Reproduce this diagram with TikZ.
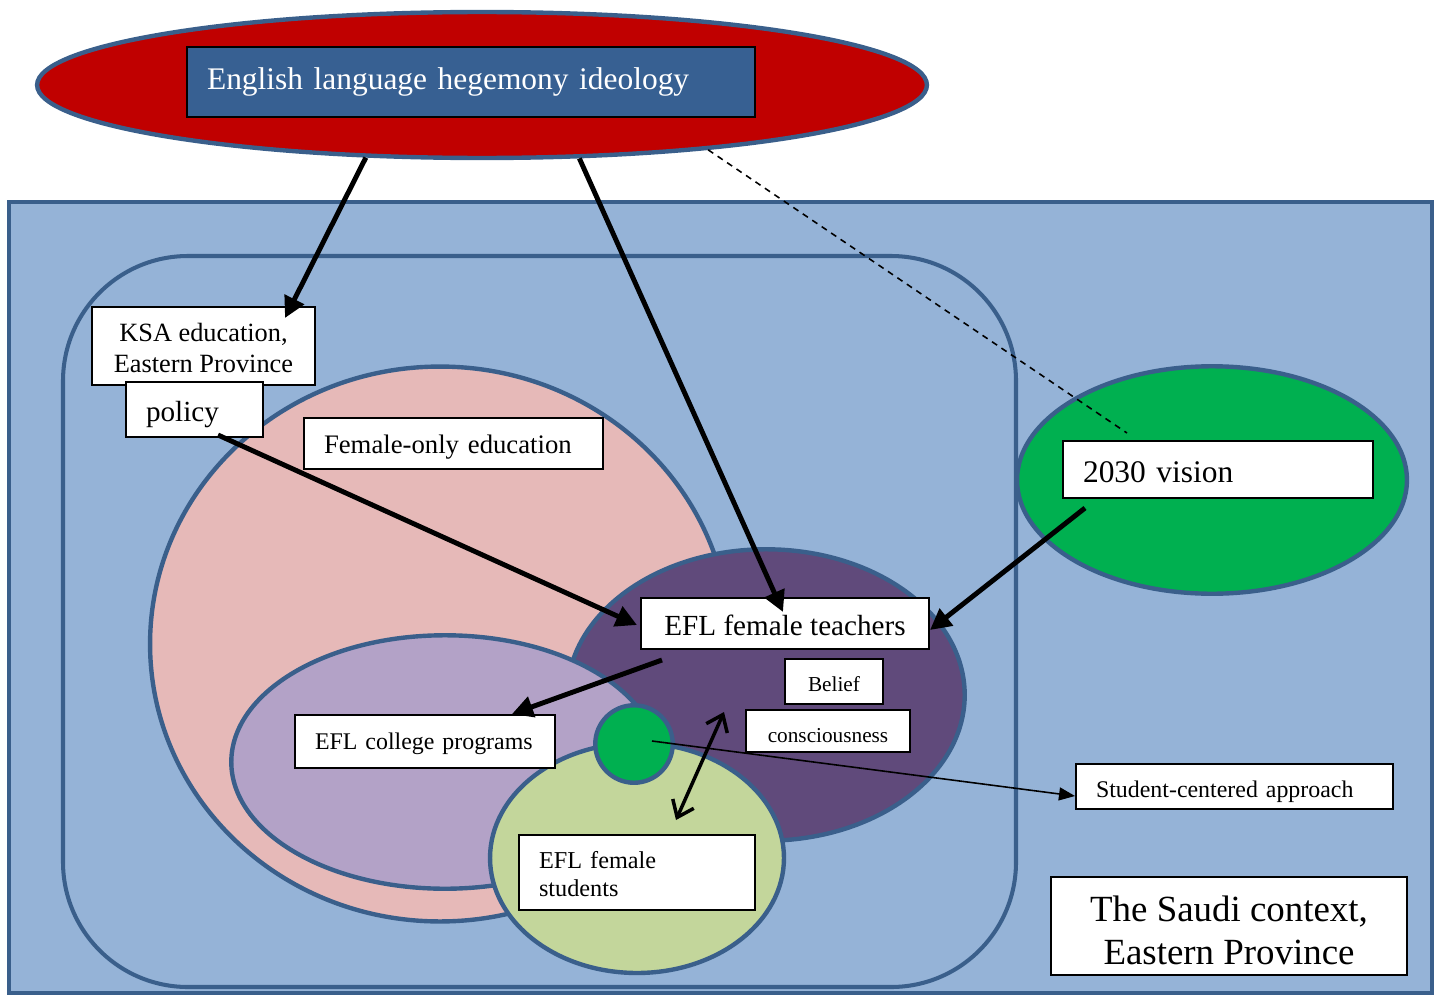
\documentclass[tikz,border=0pt]{standalone}
\usepackage{fontspec}
\setmainfont{Liberation Serif}
\usetikzlibrary{arrows.meta,shapes.geometric}
\definecolor{ctxblue}{HTML}{95B3D7}
\definecolor{edgeblue}{HTML}{3A5F8B}
\definecolor{hegred}{HTML}{C00000}
\definecolor{ideoblue}{HTML}{376092}
\definecolor{femalepink}{HTML}{E6B9B8}
\definecolor{collegelilac}{HTML}{B3A2C7}
\definecolor{teacherpurple}{HTML}{604A7B}
\definecolor{studentgreen}{HTML}{C3D69B}
\definecolor{visiongreen}{HTML}{00B050}

\begin{document}
\begin{tikzpicture}[x=0.02cm,y=-0.02cm,
  region/.style={ellipse,draw=edgeblue,line width=2.5pt,inner sep=0pt},
  tbox/.style={rectangle,draw=black,fill=white,line width=0.8pt,inner sep=0pt,
    align=center},
  lbox/.style={tbox,align=left,inner xsep=0.4cm},
  oneline/.style={text height=#1,text depth=0pt},
  bigarrow/.style={-{Triangle[length=4.2mm,width=4.2mm]},line width=2.8pt},
  duo/.style={{Straight Barb[length=3mm,width=4.6mm]}-{Straight Barb[length=3mm,width=4.6mm]},
    line width=2pt},
  thinarrow/.style={-{Triangle[length=3.2mm,width=2.6mm]},line width=0.9pt},
]
\useasboundingbox (0,0) rectangle (1439,997);

% Saudi context frame
\draw[fill=ctxblue,draw=edgeblue,line width=2.3pt] (9,202) rectangle (1432,993);

% Ideology
\node[region,fill=hegred,minimum width=17.8cm,minimum height=2.92cm] (hege) at (482,85) {};
\node[lbox,fill=ideoblue,text=white,text width=10.56cm,minimum height=1.4cm,
  font=\fontsize{17.9}{22}\selectfont] (ideo) at (471,82) {English language hegemony ideology};

% 2030 vision
\node[region,fill=visiongreen,minimum width=7.8cm,minimum height=4.55cm] (visarea) at (1212,480) {};

% KSA education frame
\draw[draw=edgeblue,line width=2.3pt,rounded corners=2.5cm] (63,256) rectangle (1016,987);

% nested regions
\node[region,fill=femalepink,minimum width=11.6cm,minimum height=11.1cm] (femarea) at (440,644) {};
\node[region,fill=teacherpurple,minimum width=7.95cm,minimum height=5.83cm] (teacharea) at (766,695) {};
\node[region,fill=collegelilac,minimum width=8.55cm,minimum height=5.07cm] (collarea) at (445,762) {};
\node[region,fill=studentgreen,minimum width=5.88cm,minimum height=4.6cm] (studarea) at (637,858) {};
\node[circle,draw=edgeblue,line width=2.5pt,fill=visiongreen,minimum size=1.55cm,inner sep=0pt] (dot) at (634,744) {};

% labels
\node[tbox,minimum width=4.46cm,minimum height=1.56cm,
  font=\fontsize{15}{17.6}\selectfont] (ksa) at (203.5,346) {\rule{0pt}{12.6pt}KSA education,\\Eastern Province};
\node[lbox,oneline=13.5pt,text width=1.94cm,minimum height=1.1cm,
  font=\fontsize{16.6}{20}\selectfont] (pol) at (194.5,409.5) {policy};
\node[lbox,oneline=11.7pt,text width=5.18cm,minimum height=1.02cm,
  font=\fontsize{15.2}{18}\selectfont] (fem) at (453.5,443.5) {Female-only education};
\node[tbox,oneline=13.7pt,minimum width=5.76cm,minimum height=1.02cm,
  font=\fontsize{16.6}{20}\selectfont] (teach) at (785,623.5) {EFL female teachers};
\node[tbox,oneline=11.8pt,minimum width=1.96cm,minimum height=0.9cm,
  font=\fontsize{12.1}{14}\selectfont] (belief) at (834,681.5) {Belief};
\node[tbox,oneline=12.8pt,minimum width=3.28cm,minimum height=0.84cm,
  font=\fontsize{12.1}{14}\selectfont] (consc) at (828,731) {consciousness};
\node[lbox,oneline=8.7pt,text width=4.4cm,minimum height=1.06cm,
  font=\fontsize{13.6}{16}\selectfont] (coll) at (425,741.5) {EFL college programs};
\node[lbox,text width=3.92cm,minimum height=1.5cm,
  font=\fontsize{13.8}{16}\selectfont] (stud) at (637,872.5) {\rule{0pt}{11.7pt}EFL female\\students};
\node[lbox,oneline=14.6pt,text width=5.4cm,minimum height=1.14cm,
  font=\fontsize{17.9}{21}\selectfont] (vis) at (1218,469.5) {2030 vision};
\node[lbox,oneline=12.1pt,text width=5.54cm,minimum height=0.9cm,
  font=\fontsize{13.6}{16}\selectfont] (sca) at (1234.5,786.5) {Student-centered approach};
\node[tbox,minimum width=7.12cm,minimum height=1.96cm,
  font=\fontsize{21}{24.5}\selectfont] (saudi) at (1229,926) {\rule{0pt}{20pt}The Saudi context,\\Eastern Province};

% connector ends
\coordinate (ksatip) at (285,318);
\coordinate (teachtip) at (783,612);
\coordinate (dashend) at (1127,433);
\coordinate (polstart) at (218,435);
\coordinate (teachleft) at (637,625);
\coordinate (visstart) at (1085,508);
\coordinate (teachright) at (930,630);
\coordinate (teachlow) at (662,660);
\coordinate (colltip) at (512,714);
\coordinate (duoup) at (724,712);
\coordinate (duodown) at (676,820);
\coordinate (dotstart) at (652,741);
\coordinate (scatip) at (1075,796);

% influences
\draw[dashed,line width=0.9pt,dash pattern=on 3.5pt off 3pt] (hege.-16.6) -- (dashend);
\draw[bigarrow] (hege.212) -- (ksatip);
\draw[bigarrow] (hege.-37) -- (teachtip);
\draw[bigarrow] (polstart) -- (teachleft);
\draw[bigarrow] (visstart) -- (teachright);
\draw[bigarrow] (teachlow) -- (colltip);
\draw[duo] (duoup) -- (duodown);
\draw[thinarrow] (dotstart) -- (scatip);

\end{tikzpicture}
\end{document}
